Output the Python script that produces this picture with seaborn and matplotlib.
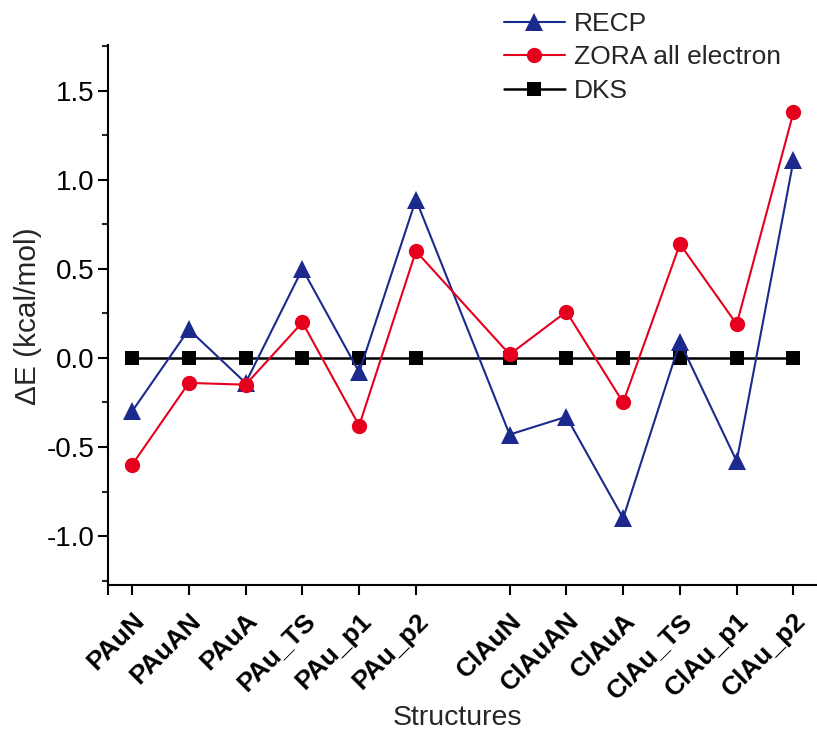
import matplotlib
matplotlib.use("Agg")
import matplotlib.pyplot as plt
import matplotlib.transforms as mtransforms
import seaborn as sns
import numpy as np
import pandas as pd
from matplotlib.ticker import MultipleLocator

# ---- data ----
pau_labels = ["PAuN", "PAuAN", "PAuA", "PAu_TS", "PAu_p1", "PAu_p2"]
clau_labels = ["ClAuN", "ClAuAN", "ClAuA", "ClAu_TS", "ClAu_p1", "ClAu_p2"]
recp = [-0.30, 0.16, -0.14, 0.50, -0.08, 0.89, -0.43, -0.33, -0.90, 0.09, -0.58, 1.11]
zora = [-0.60, -0.14, -0.15, 0.20, -0.38, 0.60, 0.02, 0.26, -0.25, 0.64, 0.19, 1.38]
dks = [0.0] * 12
series_names = ["RECP", "ZORA all electron", "DKS"]

labels = pau_labels + clau_labels
# x positions: two groups separated by a gap
pos = np.concatenate([np.arange(6), 6.65 + np.arange(6)])

sns.set_style("ticks")
plt.rcParams["font.family"] = ["Liberation Sans", "DejaVu Sans"]

fig = plt.figure(figsize=(8.17, 7.35), dpi=100)
ax = fig.add_axes([0.1322, 0.2041, 0.88, 0.7347])

blue = "#1b2a8c"
red = "#e6001e"
black = "#000000"

df = pd.DataFrame({"x": pos, "RECP": recp, "ZORA": zora, "DKS": dks})

sns.lineplot(data=df, x="x", y="RECP", ax=ax, color=blue, marker="^", markersize=13,
             markeredgewidth=0, linewidth=1.5, label=series_names[0], zorder=3)
sns.lineplot(data=df, x="x", y="ZORA", ax=ax, color=red, marker="o", markersize=11,
             markeredgewidth=0, linewidth=1.5, label=series_names[1], zorder=4)
sns.lineplot(data=df, x="x", y="DKS", ax=ax, color=black, marker="s", markersize=9.5,
             markeredgewidth=0, linewidth=1.8, label=series_names[2], zorder=2)

xl = -0.424
ax.set_xlim(xl, 12.24)
ax.set_ylim(-1.275, 1.758)

ax.set_xticks([xl] + list(pos))
ax.set_xticklabels([""] + labels, rotation=45, ha="right", va="top",
                   rotation_mode="anchor", fontsize=19, fontweight="bold")
offset = mtransforms.ScaledTranslation(3 / 100, 0, fig.dpi_scale_trans)
for lab in ax.get_xticklabels():
    lab.set_transform(lab.get_transform() + offset)

ax.yaxis.set_major_locator(MultipleLocator(0.5))
ax.yaxis.set_minor_locator(MultipleLocator(0.25))
ax.set_yticks([-1.0, -0.5, 0.0, 0.5, 1.0, 1.5])
ax.set_yticklabels(["-1.0", "-0.5", "0.0", "0.5", "1.0", "1.5"], fontsize=20)
ax.tick_params(axis="both", which="major", direction="out", length=7.5, width=1.5,
               colors="black", pad=2)
ax.tick_params(axis="y", which="minor", direction="out", length=4, width=1.5)
ax.tick_params(axis="x", which="major", pad=9.5)

for s in ["top", "right"]:
    ax.spines[s].set_visible(False)
for s in ["left", "bottom"]:
    ax.spines[s].set_linewidth(1.5)
    ax.spines[s].set_color("black")

ax.set_xlabel("Structures", fontsize=20.5)
ax.xaxis.set_label_coords(0.486, -0.222)
ax.set_ylabel("\u0394E (kcal/mol)", fontsize=21.5)
ax.yaxis.set_label_coords(-0.092, 0.498)

leg = ax.legend(loc="upper left", bbox_to_anchor=(504 / 817, 1 - 12 / 735),
                bbox_transform=fig.transFigure, frameon=False, fontsize=19,
                handlelength=2.3, handletextpad=0.35, labelspacing=0.36, borderpad=0,
                borderaxespad=0)

fig.savefig("out.png", dpi=100)
